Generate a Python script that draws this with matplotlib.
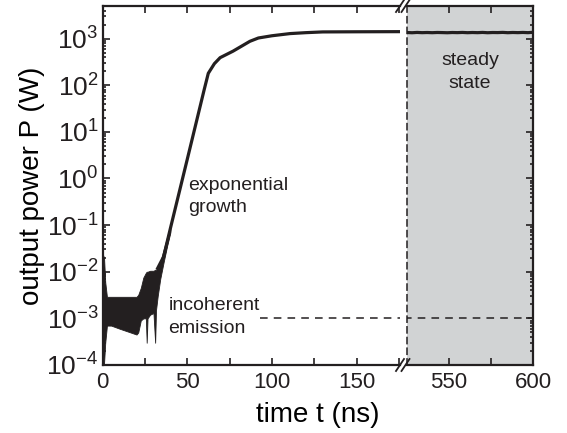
import numpy as np
import matplotlib.pyplot as plt
from matplotlib.lines import Line2D
from matplotlib.ticker import LogLocator, NullFormatter, FixedLocator

plt.rcParams['font.family'] = ['Liberation Sans', 'DejaVu Sans']
plt.rcParams['mathtext.fontset'] = 'custom'
plt.rcParams['mathtext.rm'] = 'Liberation Sans'
plt.rcParams['mathtext.it'] = 'Liberation Sans:italic'
plt.rcParams['mathtext.bf'] = 'Liberation Sans:bold'
plt.rcParams['axes.unicode_minus'] = False

ink = '#231f20'
shade = '#d1d3d4'

# noisy incoherent-emission band (upper / lower envelope, W)
t_band = [0.0, 0.8, 1.5, 2.5, 5, 10, 15, 20, 21, 22.5, 24, 25.5, 26, 26.5, 28,
          30, 31, 31.5, 32.5, 34, 36, 38, 40]
p_upper = [2.4e-2, 2.0e-2, 6e-3, 2.9e-3, 2.9e-3, 2.9e-3, 2.9e-3, 2.9e-3, 3.2e-3,
           4.5e-3, 7.5e-3, 9.5e-3, 1.0e-2, 1.0e-2, 1.05e-2, 1.05e-2, 1.1e-2,
           1.1e-2, 1.2e-2, 1.6e-2, 3.0e-2, 5.5e-2, 0.1]
p_lower = [1.0e-4, 1.1e-4, 3e-4, 7e-4, 7e-4, 6e-4, 5.2e-4, 4.5e-4, 5e-4, 9e-4,
           1e-3, 1e-3, 3e-4, 1e-3, 1.2e-3, 1.3e-3, 3e-4, 1.5e-3, 3e-3, 7e-3,
           1.6e-2, 3.5e-2, 7e-2]

# growth and saturation (W)
t_growth = [32, 36, 40, 45, 50, 55, 60, 62.4, 66, 69.4, 77, 87, 92, 100, 110.7,
            120, 130, 150, 178]
p_growth = [1.1e-2, 2.1e-2, 8.5e-2, 0.47, 2.6, 14.5, 81, 180, 290, 390, 537, 875,
            1030, 1150, 1280, 1340, 1390, 1400, 1410]

# steady state after the axis break (W)
t_steady = [525, 528, 531, 534, 537, 540, 543, 546, 549, 552, 555, 558, 561, 564,
            567, 570, 573, 576, 579, 582, 585, 588, 591, 594, 597, 600]
p_steady = [1350, 1335, 1355, 1340, 1350, 1338, 1352, 1345, 1335, 1350, 1342, 1355,
            1338, 1350, 1340, 1356, 1336, 1350, 1345, 1358, 1338, 1352, 1342, 1355,
            1340, 1365]

incoherent_level = 1e-3

fig = plt.figure(figsize=(5.67, 4.33), dpi=100)
W, H = 567, 433


def px(x0, y0, x1, y1):
    return [x0 / W, 1 - y1 / H, (x1 - x0) / W, (y1 - y0) / H]


axL = fig.add_axes(px(102.7, 6, 400, 365))
axR = fig.add_axes(px(407, 6, 533, 365), sharey=axL)
axR.set_facecolor(shade)

axL.fill_between(t_band, p_lower, p_upper, color=ink, lw=0.6)
axL.plot(t_growth, p_growth, color=ink, lw=2.3, solid_capstyle='butt')
axR.plot(t_steady, p_steady, color=ink, lw=2.3)

axL.plot([93, 176], [incoherent_level] * 2, color=ink, lw=1.1, ls=(0, (5, 4)))
axR.axhline(incoherent_level, color=ink, lw=1.1, ls=(2, (5, 4)))

axL.set_yscale('log')
axL.set_ylim(1e-4, 5e3)
axL.set_xlim(0, 175.7)
axR.set_xlim(525, 600)

axL.yaxis.set_major_locator(LogLocator(base=10, numticks=20))
axL.yaxis.set_minor_locator(LogLocator(base=10, subs=np.arange(2, 10), numticks=20))
axL.yaxis.set_minor_formatter(NullFormatter())

axL.set_xticks([0, 50, 100, 150])
axL.xaxis.set_minor_locator(FixedLocator([25, 75, 125, 175]))
axR.set_xticks([550, 600])
axR.xaxis.set_minor_locator(FixedLocator([575]))

for ax in (axL, axR):
    for s in ax.spines.values():
        s.set_linewidth(1.6)
        s.set_color(ink)
    ax.tick_params(which='both', direction='in', colors=ink, width=1.2,
                   labelsize=16, pad=5)
    ax.tick_params(which='major', length=5)
    ax.tick_params(which='minor', length=2.5)
    ax.tick_params(axis='x', which='minor', length=5)

axL.spines['right'].set_visible(False)
axL.tick_params(axis='y', which='both', left=True, right=False, pad=3, labelsize=19)
axL.tick_params(axis='x', which='both', top=True, bottom=True)

axR.spines['left'].set_linestyle((0, (4, 3)))
axR.spines['left'].set_linewidth(1.1)
axR.tick_params(axis='y', which='both', left=False, right=True, labelleft=False)
axR.tick_params(axis='x', which='both', top=True, bottom=True)

axL.set_ylabel('output power P (W)', fontsize=20, labelpad=1)
fig.text(318 / W, 1 - 415 / H, 'time t (ns)', fontsize=20, ha='center', va='center')

axL.text(50.4, 0.575, 'exponential', fontsize=14, color=ink, va='baseline')
axL.text(50.4, 0.194, 'growth', fontsize=14, color=ink, va='baseline')
axL.text(38.8, 1.53e-3, 'incoherent', fontsize=14, color=ink, va='baseline')
axL.text(38.8, 4.9e-4, 'emission', fontsize=14, color=ink, va='baseline')
axR.text(562.5, 277, 'steady', fontsize=14, color=ink, va='baseline', ha='center')
axR.text(562.5, 88.7, 'state', fontsize=14, color=ink, va='baseline', ha='center')

# axis break marks
for ybrk in (6, 365):
    for xbrk in (400, 405.5):
        fig.add_artist(Line2D([(xbrk - 4) / W, (xbrk + 4) / W],
                              [1 - (ybrk + 6) / H, 1 - (ybrk - 6) / H],
                              color=ink, lw=1.3))

fig.savefig('out.png', dpi=100)
